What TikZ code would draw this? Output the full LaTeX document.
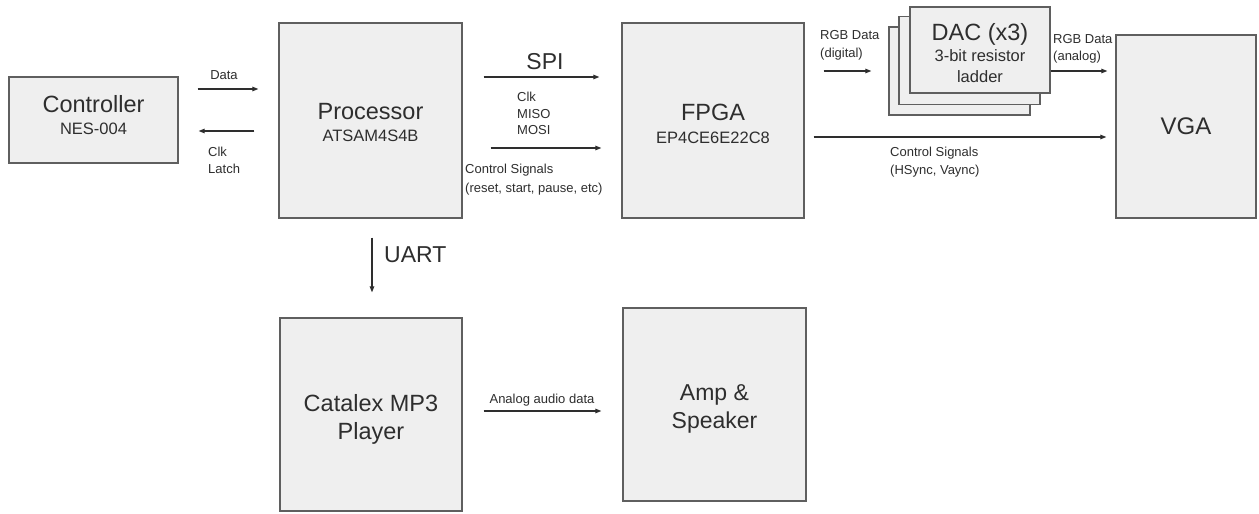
\documentclass[tikz,border=0pt]{standalone}
\usepackage{fontspec}
\setmainfont{Liberation Sans}
\usetikzlibrary{arrows.meta}
\definecolor{boxfill}{HTML}{EFEFEF}
\definecolor{boxline}{HTML}{5F5F5F}
\definecolor{inkgray}{HTML}{2E2E2E}
\newcommand{\subsize}{\fontsize{16.5}{20}\selectfont}
\newcommand{\lblsize}{\fontsize{13}{17.5}\selectfont}
\begin{document}
\begin{tikzpicture}[x=1pt, y=-1pt,
	blk/.style={draw=boxline, fill=boxfill, line width=1.3pt, inner sep=0pt, align=center, text=inkgray},
	arr/.style={-{Triangle[length=6pt,width=4.5pt]}, draw=inkgray, line width=1.1pt},
	lbl/.style={inner sep=0pt, align=left, text=inkgray, font=\lblsize}]
	\path[fill=white, use as bounding box] (0,0) rectangle (1259,514);
	% Top row
	\node[blk, minimum width=169pt, minimum height=86pt, text depth=10pt, font=\fontsize{23.5}{22}\selectfont] (ctrl) at (93.5,120) {Controller\\{\subsize NES-004}};
	\node[blk, minimum width=183pt, minimum height=195pt, text height=42.8pt, font=\fontsize{23.5}{22}\selectfont] (proc) at (370.5,120.5) {Processor\\{\subsize ATSAM4S4B}};
	\node[blk, minimum width=182pt, minimum height=195pt, text height=45.8pt, font=\fontsize{23.5}{23}\selectfont] (fpga) at (713,120.5) {FPGA\\{\subsize EP4CE6E22C8}};
	% DAC stack (back to front)
	\node[blk, minimum width=141pt, minimum height=88pt] (dacc) at (959.5,71) {};
	\node[blk, minimum width=141pt, minimum height=88pt] (dacb) at (969.5,60.5) {};
	\node[blk, minimum width=140pt, minimum height=86pt, text height=65pt, font=\fontsize{23.5}{21}\selectfont] (daca) at (980,50) {DAC (x3)\\{\subsize 3-bit resistor}\\{\subsize ladder}};
	\node[blk, minimum width=140pt, minimum height=183pt, font=\fontsize{24}{24}\selectfont] (vga) at (1186,126.5) {VGA};
	% Bottom row
	\node[blk, minimum width=182pt, minimum height=193pt, text height=49.3pt, text depth=0pt, font=\fontsize{23.5}{27.5}\selectfont] (mp3) at (371,414.5) {Catalex MP3\\Player};
	\node[blk, minimum width=183pt, minimum height=193pt, text height=47.7pt, text depth=0pt, font=\fontsize{23}{28}\selectfont] (amp) at (714.5,404.5) {Amp \&\\Speaker};
	% Controller <-> Processor
	\draw[arr] ([xshift=19pt,yshift=31pt]ctrl.east) -- ([xshift=-20pt,yshift=31.5pt]proc.west);
	\draw[arr] ([xshift=-24pt,yshift=-10.5pt]proc.west) -- ([xshift=20pt,yshift=-11pt]ctrl.east);
	\node[lbl] (datalbl) at (224,75) {Data};
	\node[lbl, anchor=west] (clklbl) at (208,160.5) {Clk\\Latch};
	% Processor -> FPGA
	\draw[arr] ([xshift=21pt,yshift=43.5pt]proc.east) -- ([xshift=-22pt,yshift=43.5pt]fpga.west);
	\node[inner sep=0pt, text=inkgray, font=\fontsize{23}{23}\selectfont] (spilbl) at (545,62) {SPI};
	\node[lbl, anchor=west, font=\fontsize{13}{16.5}\selectfont] (spipins) at (517,113.5) {Clk\\MISO\\MOSI};
	\draw[arr] ([xshift=28pt,yshift=-27.5pt]proc.east) -- ([xshift=-20pt,yshift=-27.5pt]fpga.west);
	\node[lbl, anchor=west, font=\fontsize{13}{19}\selectfont] (ctllbl) at (465,180) {Control Signals\\(reset, start, pause, etc)};
	% FPGA -> DAC -> VGA
	\draw[arr] ([xshift=19pt,yshift=49.5pt]fpga.east) -- ([xshift=-17pt]dacc.west);
	\node[lbl, anchor=west] (rgbin) at (820,45.5) {RGB Data\\(digital)};
	\draw[arr] ([yshift=-21pt]daca.east) -- ([xshift=-8pt,yshift=55.5pt]vga.west);
	\node[lbl, anchor=west] (rgbout) at (1053,49) {RGB Data\\(analog)};
	\draw[arr] ([xshift=9pt,yshift=-16.5pt]fpga.east) -- ([xshift=-9pt,yshift=-10.5pt]vga.west);
	\node[lbl, anchor=west] (synclbl) at (890,162) {Control Signals\\(HSync, Vaync)};
	% Processor -> MP3 -> Amp
	\draw[arr] ([xshift=1.5pt,yshift=-19pt]proc.south) -- ([xshift=1pt,yshift=25pt]mp3.north);
	\node[inner sep=0pt, anchor=west, text=inkgray, font=\fontsize{23}{23}\selectfont] (uartlbl) at (384,255) {UART};
	\draw[arr] ([xshift=21pt,yshift=3.5pt]mp3.east) -- ([xshift=-21pt,yshift=-6.5pt]amp.west);
	\node[lbl] (audiolbl) at (542,400) {Analog audio data};
\end{tikzpicture}
\end{document}
